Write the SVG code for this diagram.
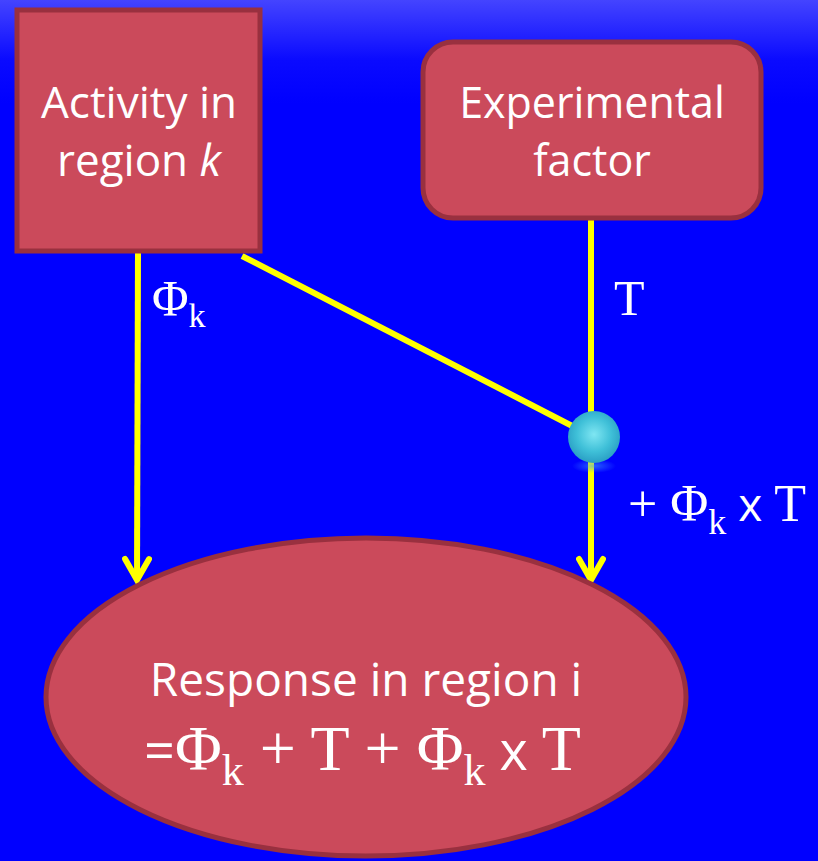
<svg xmlns="http://www.w3.org/2000/svg" width="818" height="861" viewBox="0 0 818 861">
<defs>
<linearGradient id="bg" x1="0" y1="0" x2="0" y2="1">
<stop offset="0" stop-color="#4444ff"/>
<stop offset="0.07" stop-color="#0a0aff"/>
<stop offset="0.12" stop-color="#0000ff"/>
<stop offset="1" stop-color="#0000ff"/>
</linearGradient>
<radialGradient id="ball" cx="0.5" cy="0.45" r="0.55">
<stop offset="0" stop-color="#7fe6f2"/>
<stop offset="0.6" stop-color="#3fc0d8"/>
<stop offset="1" stop-color="#2a9fc4"/>
</radialGradient>
<radialGradient id="glow" cx="0.5" cy="0.5" r="0.5">
<stop offset="0" stop-color="#40a0ff" stop-opacity="0.6"/>
<stop offset="1" stop-color="#40a0ff" stop-opacity="0"/>
</radialGradient>
<marker id="ah" markerWidth="30" markerHeight="30" refX="25" refY="15" orient="auto" markerUnits="userSpaceOnUse" viewBox="0 0 30 30">
<path d="M4,3 L25,15 L4,27" fill="none" stroke="#ffff00" stroke-width="6" stroke-linecap="round" stroke-linejoin="miter"/>
</marker>
</defs>
<style>
.node{fill:#cb4a5b;stroke:#99303f;stroke-width:5}
.lbl{font-family:"Open Sans","Lato",sans-serif;fill:#ffffff;text-anchor:middle}
.math{font-family:"Liberation Serif","DejaVu Serif",serif;fill:#ffffff}
.conn{stroke:#ffff00;stroke-width:6;fill:none}
</style>
<rect width="818" height="861" fill="url(#bg)"/>
<g id="connectors">
<line class="conn" x1="138" y1="251" x2="137" y2="580" marker-end="url(#ah)"/>
<line class="conn" x1="591" y1="219" x2="591" y2="580" marker-end="url(#ah)"/>
<line class="conn" x1="242" y1="256" x2="580" y2="430"/>
</g>
<g id="node-activity">
<rect class="node" x="17" y="10" width="243" height="241"/>
<text class="lbl" font-size="44" x="139" y="118">Activity in</text>
<text class="lbl" font-size="44" x="139" y="176">region <tspan font-style="italic">k</tspan></text>
</g>
<g id="node-experimental">
<rect class="node" x="423" y="42" width="338" height="176" rx="30" ry="30"/>
<text class="lbl" font-size="43" x="592" y="118">Experimental</text>
<text class="lbl" font-size="43" x="592" y="176">factor</text>
</g>
<g id="node-response">
<ellipse class="node" cx="366" cy="697" rx="320" ry="159"/>
<text class="lbl" font-size="46" x="366" y="696">Response in region i</text>
<text class="math" font-size="64" x="144" y="770"><tspan font-family="Open Sans, sans-serif" font-size="54">=</tspan>Φ<tspan font-size="44" dy="15">k</tspan><tspan dy="-15"> + T + Φ</tspan><tspan font-size="44" dy="15">k</tspan><tspan dy="-15" font-family="Open Sans, sans-serif" font-size="54"> x </tspan>T</text>
</g>
<g id="node-interaction">
<ellipse cx="594" cy="466" rx="22" ry="7" fill="url(#glow)"/>
<circle cx="594" cy="437" r="26" fill="url(#ball)"/>
</g>
<g id="labels">
<text class="math" font-size="50" x="152" y="315">Φ<tspan font-size="34" dy="12">k</tspan></text>
<text class="math" font-size="50" x="614" y="315">T</text>
<text class="math" font-size="52" x="628" y="521">+ Φ<tspan font-size="36" dy="13">k</tspan><tspan dy="-13" font-family="Open Sans, sans-serif" font-size="46"> x </tspan>T</text>
</g>
</svg>
